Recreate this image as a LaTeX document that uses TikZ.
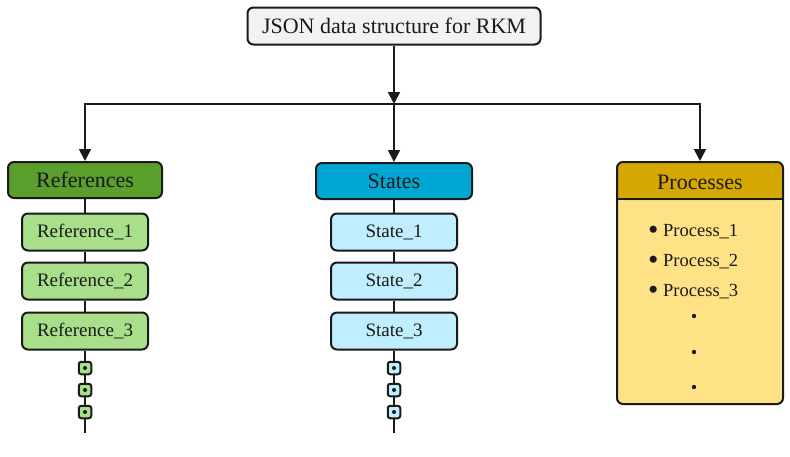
\documentclass[tikz,border=0pt]{standalone}
\usepackage{fontspec}
\setmainfont{Liberation Serif}
\usetikzlibrary{arrows.meta}

\definecolor{refdark}{HTML}{5A9E2B}
\definecolor{reflight}{HTML}{A9DE8A}
\definecolor{statedark}{HTML}{00A7D3}
\definecolor{statelight}{HTML}{C0EEFF}
\definecolor{procdark}{HTML}{D4A800}
\definecolor{proclight}{HTML}{FFE285}
\definecolor{titlefill}{HTML}{F2F2F2}
\definecolor{ink}{HTML}{1A1A1A}

\newcommand{\bigdot}{\raisebox{-0.16em}{\scalebox{1.6}{\textbullet}}}

\begin{document}
\begin{tikzpicture}[x=1pt,y=-1pt,
  box/.style={draw=ink, line width=2pt, rounded corners=6pt, inner sep=0pt, text=ink},
  head/.style={box, minimum height=36pt, font=\fontsize{22}{26}\selectfont},
  item/.style={box, minimum width=126pt, minimum height=37pt, font=\fontsize{19}{22}\selectfont},
  dotbox/.style={draw=ink, line width=2pt, rounded corners=2.5pt, minimum size=12.5pt, inner sep=0pt,
    path picture={\fill[ink] (path picture bounding box.center) circle (2pt);}},
  pdot/.style={circle, fill=ink, inner sep=0pt, minimum size=4.4pt},
  procitem/.style={anchor=west, inner sep=0pt, text=ink, font=\fontsize{18.5}{22}\selectfont},
  link/.style={line width=1.8pt, draw=ink},
  arr/.style={link, -{Triangle[length=12pt,width=12pt]}}
]
\useasboundingbox (0,0) rectangle (790,456);

\node[box, fill=titlefill, minimum width=293pt, minimum height=37pt,
  font=\fontsize{22}{26}\selectfont] (title) at (394,26) {JSON data structure for RKM};
\coordinate (j2) at (394,104);

% references
\node[head, fill=refdark, minimum width=154pt] (refs) at (85,180) {References};
\node[item, fill=reflight] (ref1) at (85,232) {Reference\_1};
\node[item, fill=reflight] (ref2) at (85,281) {Reference\_2};
\node[item, fill=reflight] (ref3) at (85,331) {Reference\_3};
\node[dotbox, fill=reflight] (refd1) at (85,368) {};
\node[dotbox, fill=reflight] (refd2) at (85,390) {};
\node[dotbox, fill=reflight] (refd3) at (85,412) {};
\coordinate (refend) at (85,433);

% states
\node[head, fill=statedark, minimum width=156pt] (states) at (394,181) {States};
\node[item, fill=statelight] (state1) at (394,232) {State\_1};
\node[item, fill=statelight] (state2) at (394,281) {State\_2};
\node[item, fill=statelight] (state3) at (394,331) {State\_3};
\node[dotbox, fill=statelight] (stated1) at (394,368) {};
\node[dotbox, fill=statelight] (stated2) at (394,390) {};
\node[dotbox, fill=statelight] (stated3) at (394,412) {};
\coordinate (stateend) at (394,433);

% processes
\node[box, fill=proclight, minimum width=166pt, minimum height=242pt,
  path picture={\fill[procdark] (path picture bounding box.north west)
    rectangle ([yshift=-38pt]path picture bounding box.north east);}] (procs) at (700,283) {};
\draw[line width=2pt, draw=ink] ([yshift=-38pt]procs.north west) -- ([yshift=-38pt]procs.north east);
\node[text=ink, font=\fontsize{22}{26}\selectfont] (prochead) at (700,182) {Processes};
\node[procitem] (proc1) at (648,232) {\bigdot\ Process\_1};
\node[procitem] (proc2) at (648,262) {\bigdot\ Process\_2};
\node[procitem] (proc3) at (648,292) {\bigdot\ Process\_3};
\foreach \y [count=\i] in {316,352,387}
  \node[pdot] (pdot\i) at (694,\y) {};

\draw[arr] (title) -- (j2);
\draw[arr] (j2) -| (refs);
\draw[arr] (j2) -- (states);
\draw[arr] (j2) -| (procs);

\draw[link] (refs) -- (ref1) -- (ref2) -- (ref3) -- (refd1) -- (refd2) -- (refd3) -- (refend);
\draw[link] (states) -- (state1) -- (state2) -- (state3) -- (stated1) -- (stated2) -- (stated3) -- (stateend);

\end{tikzpicture}
\end{document}
